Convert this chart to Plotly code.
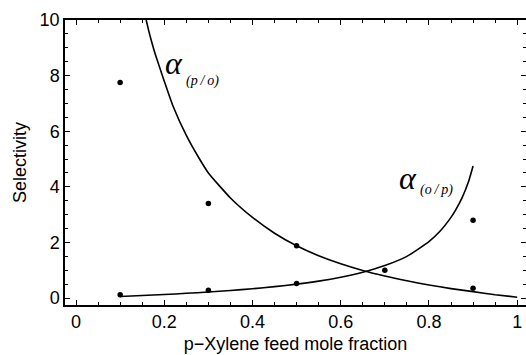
import plotly.graph_objects as go

# Measured selectivities
feed_frac = [0.1, 0.3, 0.5, 0.7, 0.9]
alpha_po_meas = [7.75, 3.4, 1.88, 1.0, 0.35]
feed_frac_op = [0.1, 0.3, 0.5, 0.9]
alpha_op_meas = [0.12, 0.28, 0.52, 2.8]

# Model curves
curve_x_po = [0.159, 0.165, 0.17, 0.18, 0.2, 0.22, 0.25, 0.28, 0.3, 0.35, 0.4, 0.45,
              0.5, 0.55, 0.6, 0.65, 0.7, 0.75, 0.8, 0.85, 0.9, 0.95, 1.0]
curve_y_po = [10.0, 9.6, 9.3, 8.75, 7.8, 6.9, 5.85, 5.0, 4.5, 3.6, 2.9, 2.33,
              1.88, 1.52, 1.23, 0.99, 0.79, 0.62, 0.47, 0.34, 0.23, 0.12, 0.03]
curve_x_op = [0.1, 0.15, 0.2, 0.25, 0.3, 0.35, 0.4, 0.45, 0.5, 0.55, 0.6,
              0.65, 0.7, 0.75, 0.8, 0.825, 0.85, 0.86, 0.875, 0.89, 0.9]
curve_y_op = [0.055, 0.09, 0.125, 0.17, 0.215, 0.27, 0.335, 0.41, 0.5, 0.61, 0.75,
              0.93, 1.17, 1.5, 2.03, 2.4, 2.9, 3.15, 3.6, 4.2, 4.75]

x_ticks = [0, 0.2, 0.4, 0.6, 0.8, 1]
x_tick_text = ["0", "0.2", "0.4", "0.6", "0.8", "1"]
y_ticks = [0, 2, 4, 6, 8, 10]
y_tick_text = ["0", "2", "4", "6", "8", "10"]

X_RANGE = [-0.025, 1.02]
Y_RANGE = [-0.25, 10]
SANS = "Liberation Sans, Arial, Helvetica, sans-serif"
SERIF = "Liberation Serif, Times New Roman, serif"

fig = go.Figure()
line_style = dict(color="black", width=1.6, shape="spline", smoothing=0.5)
fig.add_trace(go.Scatter(x=curve_x_po, y=curve_y_po, mode="lines", line=line_style,
                         hoverinfo="skip"))
fig.add_trace(go.Scatter(x=curve_x_op, y=curve_y_op, mode="lines", line=line_style,
                         hoverinfo="skip"))
fig.add_trace(go.Scatter(x=feed_frac, y=alpha_po_meas, mode="markers",
                         marker=dict(color="black", size=5.5)))
fig.add_trace(go.Scatter(x=feed_frac_op, y=alpha_op_meas, mode="markers",
                         marker=dict(color="black", size=5.5)))

# Curve labels: large alpha plus a small italic subscript
def curve_label(x_alpha, y_alpha, x_sub, y_sub, sub):
    fig.add_annotation(x=x_alpha, y=y_alpha, text="<i>α</i>", showarrow=False,
                       xanchor="left", yanchor="middle",
                       font=dict(family=SERIF, size=32, color="#000000"))
    fig.add_annotation(x=x_sub, y=y_sub, text="<i>" + sub + "</i>", showarrow=False,
                       xanchor="left", yanchor="middle",
                       font=dict(family=SERIF, size=14, color="#000000"))

curve_label(0.197, 8.45, 0.245, 7.8, "(p\u2009/\u2009o)")
curve_label(0.727, 4.3, 0.776, 3.9, "(o\u2009/\u2009p)")

minor_x = dict(dtick=0.05, ticks="inside", ticklen=3, tickcolor="black", tickwidth=1)
minor_y = dict(dtick=0.5, ticks="inside", ticklen=3, tickcolor="black", tickwidth=1)

fig.update_layout(
    template="none",
    width=526, height=355,
    margin=dict(l=65, r=0, t=20, b=50),
    paper_bgcolor="white", plot_bgcolor="white",
    showlegend=False,
    font=dict(family=SANS, size=18, color="black"),
    xaxis=dict(range=X_RANGE, tickvals=x_ticks, ticktext=x_tick_text,
               showgrid=False, zeroline=False, showline=True, linecolor="black",
               linewidth=1.5, ticks="inside", ticklen=5, tickcolor="black",
               minor=minor_x,
               title=dict(text="p\u2212Xylene feed mole fraction", standoff=6,
                          font=dict(size=18))),
    xaxis2=dict(range=X_RANGE, overlaying="x", side="top", anchor="y",
                tickvals=x_ticks, showticklabels=False, showgrid=False, zeroline=False,
                showline=True, linecolor="black", linewidth=1.5,
                ticks="inside", ticklen=5, tickcolor="black", minor=minor_x),
    yaxis=dict(range=Y_RANGE, tickvals=y_ticks, ticktext=y_tick_text,
               showgrid=False, zeroline=False, showline=True, linecolor="black",
               linewidth=1.5, ticks="inside", ticklen=5, tickcolor="black",
               minor=minor_y,
               title=dict(text="Selectivity", standoff=8, font=dict(size=18))),
    yaxis2=dict(range=Y_RANGE, overlaying="y", side="right", anchor="x",
                tickvals=y_ticks, showticklabels=False, showgrid=False, zeroline=False,
                showline=False, ticks="inside", ticklen=5, tickcolor="black",
                minor=minor_y),
)
# A hidden trace so the secondary axes are drawn
fig.add_trace(go.Scatter(x=[None], y=[None], xaxis="x2", yaxis="y2",
                         showlegend=False, hoverinfo="skip"))

fig.write_html("out.html")
